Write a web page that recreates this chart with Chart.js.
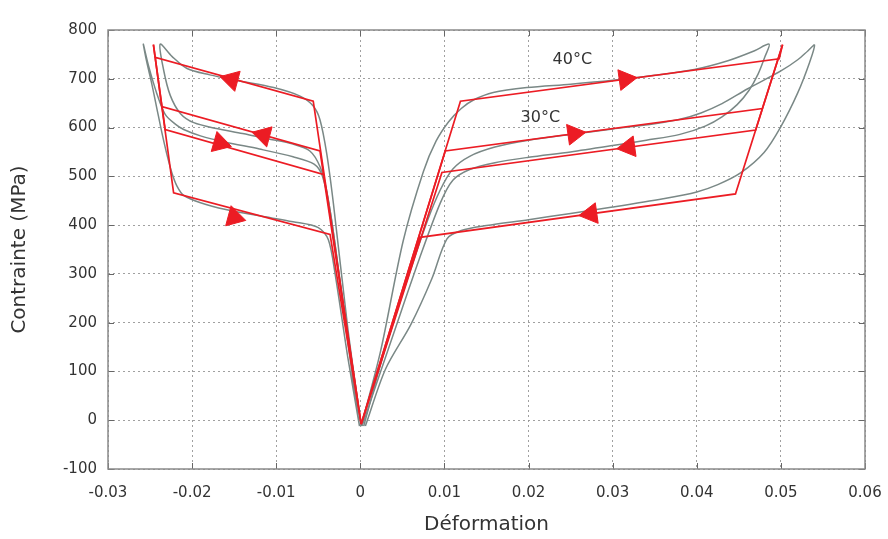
<!DOCTYPE html>
<html><head><meta charset="utf-8">
<script src="https://cdn.jsdelivr.net/npm/chart.js@4/dist/chart.umd.min.js"></script>
<style>html,body{margin:0;padding:0;background:#fff}</style>
</head><body>
<canvas id="c" width="888" height="539"></canvas>
<script>
// ---- tick values and labels ----
const xTickValues = [-0.03,-0.02,-0.01,0,0.01,0.02,0.03,0.04,0.05,0.06];
const xTickLabels = ['-0.03','-0.02','-0.01','0','0.01','0.02','0.03','0.04','0.05','0.06'];
const yTickValues = [-100,0,100,200,300,400,500,600,700,800];
const yTickLabels = ['-100','0','100','200','300','400','500','600','700','800'];

// ---- model (red) : [strain, stress] ----
const model40Right = [[0.0001,-8],[0.0119,654],[0.0498,741],[0.0502,770],[0.0446,464],[0.0071,375],[0.0001,-8]];
const model30Right = [[0.0001,-8],[0.0101,552],[0.0478,639],[0.0502,770],[0.0470,595],[0.0097,508],[0.0001,-8]];
const model40Left  = [[0.0001,-8],[-0.0056,654],[-0.0244,744],[-0.0246,770],[-0.0222,466],[-0.0036,381],[0.0001,-8]];
const model30Left  = [[0.0001,-8],[-0.0048,552],[-0.0236,643],[-0.0246,770],[-0.0232,596],[-0.0044,504],[0.0001,-8]];

// ---- experiment (grey) ----
const expARight = [[0.0001,-12],[0.0024,141],[0.0051,368],[0.0075,510],[0.009,572],[0.0105,612],[0.012,639],[0.0135,657],[0.0158,672],[0.0198,682],[0.025,689],[0.03,697],[0.035,707],[0.0397,719],[0.0437,737],[0.0468,757],[0.0486,771],
  [0.0481,745],[0.0473,710],[0.0462,676],[0.0448,647],[0.043,622],[0.041,603],[0.038,586],[0.034,574],[0.03,563],[0.025,550],[0.02,539],[0.016,528],[0.013,514],[0.011,492],[0.0095,445],[0.007,330],[0.004,180],[0.0002,-12]];
const expBRight = [[0.0004,-12],[0.003,150],[0.006,310],[0.008,410],[0.0095,472],[0.011,515],[0.013,541],[0.016,560],[0.02,574],[0.025,586],[0.03,597],[0.035,608],[0.038,617],[0.0405,630],[0.043,649],[0.046,679],[0.05,716],[0.052,739],[0.0532,757],[0.054,769],
  [0.0534,733],[0.052,671],[0.05,602],[0.048,549],[0.0452,507],[0.0425,483],[0.04,468],[0.036,454],[0.03,437],[0.025,424],[0.02,411],[0.015,399],[0.012,389],[0.0103,372],[0.0085,290],[0.006,196],[0.003,105],[0.0006,-12]];
const expCLeft = [[-0.0001,-12],[-0.0018,200],[-0.0035,420],[-0.0045,500],[-0.0055,525],[-0.008,540],[-0.012,556],[-0.016,570],[-0.019,583],[-0.021,596],[-0.022,607],[-0.0232,627],[-0.0242,670],[-0.0252,728],[-0.0258,771],
  [-0.0254,735],[-0.0248,690],[-0.0242,640],[-0.0236,590],[-0.023,545],[-0.0224,507],[-0.0218,480],[-0.021,461],[-0.019,446],[-0.016,432],[-0.012,419],[-0.008,407],[-0.005,395],[-0.0038,370],[-0.003,300],[-0.0015,130],[-0.0001,-12]];
const expDLeft = [[0.0001,-12],[-0.0015,190],[-0.0032,444],[-0.004,547],[-0.0048,616],[-0.0056,644],[-0.0071,664],[-0.0103,682],[-0.0145,696],[-0.0179,708],[-0.0206,721],[-0.0224,746],[-0.0238,771],
  [-0.0234,719],[-0.0226,666],[-0.0214,629],[-0.0198,610],[-0.0171,598],[-0.014,588],[-0.011,577],[-0.008,566],[-0.006,552],[-0.0048,520],[-0.004,470],[-0.003,360],[-0.0015,170],[0.0001,-12]];

// ---- direction arrows ----
const arrowPoints = [[0.0315,699],[0.0254,587],[0.0319,560],[0.0274,423],[-0.0153,698],[-0.0115,584],[-0.0167,568],[-0.0150,416]];
const arrowAngles = [82,82,-98,-98,-75,-75,106,105];

// ---- annotations ----
const labelTexts = ['40°C','30°C'];
const labelPoints = [[0.0252,738],[0.0214,620]];

const toXY = a => a.map(p => ({x:p[0], y:p[1]}));
const RED = 'rgb(236,28,36)';
const GREY = 'rgb(122,136,134)';

function line(data, color, width, order, tension){
  return {data: toXY(data), showLine:true, borderColor:color, borderWidth:width, pointRadius:0, fill:false, tension:tension, order:order};
}

const deco = {
  id:'deco',
  afterDraw(chart){
    const {ctx, chartArea:a, scales:{x, y}} = chart;
    ctx.save();
    ctx.strokeStyle = '#666'; ctx.lineWidth = 1;
    ctx.beginPath();
    xTickValues.forEach(v => {
      const px = Math.round(x.getPixelForValue(v)) + 0.5;
      ctx.moveTo(px, a.bottom); ctx.lineTo(px, a.bottom - 6);
      ctx.moveTo(px, a.top); ctx.lineTo(px, a.top + 6);
    });
    yTickValues.forEach(v => {
      const py = Math.round(y.getPixelForValue(v)) + 0.5;
      ctx.moveTo(a.left, py); ctx.lineTo(a.left + 6, py);
      ctx.moveTo(a.right, py); ctx.lineTo(a.right - 6, py);
    });
    ctx.stroke();
    ctx.strokeStyle = '#8a8a8a'; ctx.lineWidth = 1.5;
    ctx.strokeRect(a.left, a.top, a.right - a.left, a.bottom - a.top);
    ctx.fillStyle = '#333';
    ctx.font = '16px "DejaVu Sans"';
    ctx.textAlign = 'center'; ctx.textBaseline = 'middle';
    labelTexts.forEach((t, i) => {
      ctx.fillText(t, x.getPixelForValue(labelPoints[i][0]), y.getPixelForValue(labelPoints[i][1]));
    });
    ctx.restore();
  }
};

new Chart(document.getElementById('c'), {
  type:'scatter',
  data:{datasets:[
    {data: toXY(arrowPoints), pointStyle:'triangle', pointRadius:12, rotation:arrowAngles, backgroundColor:RED, borderColor:RED, borderWidth:1, showLine:false, order:0},
    line(model40Right, RED, 1.7, 1, 0),
    line(model30Right, RED, 1.7, 1, 0),
    line(model40Left, RED, 1.7, 1, 0),
    line(model30Left, RED, 1.7, 1, 0),
    line(expARight, GREY, 1.5, 2, 0.3),
    line(expBRight, GREY, 1.5, 2, 0.3),
    line(expCLeft, GREY, 1.5, 2, 0.3),
    line(expDLeft, GREY, 1.5, 2, 0.3)
  ]},
  options:{
    responsive:false, animation:false,
    layout:{padding:{top:30, right:23, left:0, bottom:0}},
    plugins:{legend:{display:false}, tooltip:{enabled:false}},
    scales:{
      x:{type:'linear', min:-0.03, max:0.06,
        afterBuildTicks: s => { s.ticks = xTickValues.map(v => ({value:v})); },
        afterFit: s => { s.height = 70; s.paddingLeft = 0; s.paddingRight = 0; },
        ticks:{callback:(v,i) => xTickLabels[i], color:'#333', font:{family:'DejaVu Sans', size:15}, padding:15, maxRotation:0, autoSkip:false},
        grid:{color:'rgba(150,150,150,0.9)', lineWidth:1, drawTicks:false},
        border:{display:false, dash:[2,3]},
        title:{display:true, text:'Déformation', color:'#333', font:{family:'DejaVu Sans', size:20}, padding:{top:0, bottom:2}}
      },
      y:{type:'linear', min:-100, max:800,
        afterBuildTicks: s => { s.ticks = yTickValues.map(v => ({value:v})); },
        afterFit: s => { s.width = 108; s.paddingTop = 0; s.paddingBottom = 0; },
        ticks:{callback:(v,i) => yTickLabels[i], color:'#333', font:{family:'DejaVu Sans', size:15}, padding:11, autoSkip:false},
        grid:{color:'rgba(150,150,150,0.9)', lineWidth:1, drawTicks:false},
        border:{display:false, dash:[2,3]},
        title:{display:true, text:'Contrainte (MPa)', color:'#333', font:{family:'DejaVu Sans', size:20}, padding:{top:8, bottom:0}}
      }
    }
  },
  plugins:[deco]
});
</script>
</body></html>
